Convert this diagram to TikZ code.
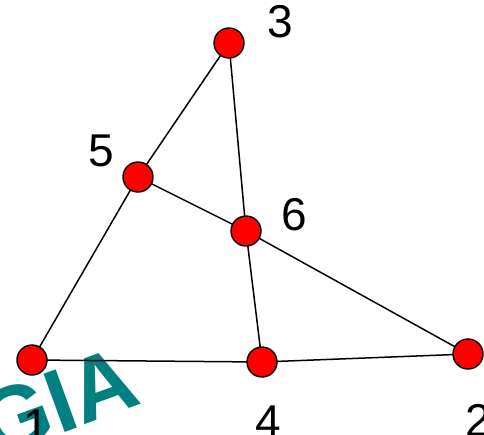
\documentclass[tikz,border=0pt]{standalone}
\usepackage{fontspec}
\setmainfont{Liberation Sans}
\definecolor{wm}{RGB}{0,128,128}
\begin{document}
\begin{tikzpicture}[x=1pt,y=-1pt,
  vert/.style={circle,fill=red,draw=black,line width=1.4pt,minimum size=30pt,inner sep=0pt},
  edge/.style={line width=1.5pt,draw=black},
  lbl/.style={font=\fontsize{46}{46}\selectfont,inner sep=0pt}]
\useasboundingbox (0,0) rectangle (484,434);
\begin{scope}
\clip (0,0) rectangle (484,434);
\node[font=\fontsize{90}{90}\selectfont\bfseries,text=wm,rotate=20,inner sep=0pt] (wmk) at (58,402) {GIA};
\coordinate (p1) at (32,360);
\coordinate (p2) at (468,354);
\coordinate (p3) at (229,43);
\coordinate (p4) at (262,362);
\coordinate (p5) at (138,177);
\coordinate (p6) at (246,231);
\draw[edge] (p1) -- (p5) -- (p3) -- (p6) -- (p4);
\draw[edge] (p1) -- (p4) -- (p2);
\draw[edge] (p5) -- (p6) -- (p2);
\foreach \i in {1,...,6} \node[vert] (v\i) at (p\i) {};
\node[lbl] (l3) at (280,22) {3};
\node[lbl] (l5) at (101,151) {5};
\node[lbl] (l6) at (294,215) {6};
\node[lbl] (l1) at (36,426) {1};
\node[lbl] (l4) at (268,422) {4};
\node[lbl] (l2) at (478,420) {2};
\end{scope}
\end{tikzpicture}
\end{document}
